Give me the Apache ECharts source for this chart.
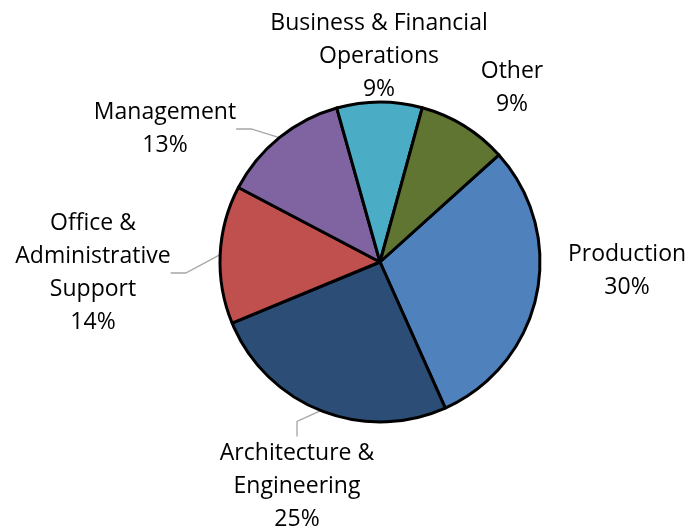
<!DOCTYPE html>
<html><head><meta charset="utf-8">
<script src="https://cdn.jsdelivr.net/npm/echarts@6/dist/echarts.min.js"></script>
<style>html,body{margin:0;padding:0;background:#fff}#c{width:688px;height:528px}</style>
</head><body><div id="c"></div>
<script>
// Data
const categories = ['Production', 'Architecture &\nEngineering', 'Office &\nAdministrative\nSupport', 'Management', 'Business & Financial\nOperations', 'Other'];
const shares = [29.9, 25.4, 13.9, 12.9, 8.6, 9.05];
const showLeader = [false, true, true, true, false, false];

// Styling / layout (not data)
const colors = ['#4F81BD', '#2C4D75', '#C0504D', '#8064A2', '#4BACC6', '#617533'];
const labelAnchors = [[627, 271], [297, 486], [93, 273], [165, 129], [379, 56], [512, 88]];

const chart = echarts.init(document.getElementById('c'), null, {renderer: 'canvas'});
chart.setOption({
  animation: false,
  backgroundColor: '#fff',
  series: [{
    type: 'pie',
    center: [380, 262],
    radius: 160,
    startAngle: 42,
    clockwise: true,
    percentPrecision: 0,
    itemStyle: {borderColor: '#000', borderWidth: 3},
    label: {
      show: true,
      position: 'outside',
      formatter: '{b}\n{d}%',
      fontFamily: 'Open Sans',
      fontSize: 23,
      lineHeight: 33,
      color: '#000',
      align: 'center',
      overflow: 'none',
      edgeDistance: 0
    },
    labelLine: {show: true, length: 10, length2: 15, lineStyle: {color: '#A6A6A6', width: 1.3}},
    labelLayout: function (params) {
      const p = labelAnchors[params.dataIndex];
      return {x: p[0], y: p[1], align: 'center', verticalAlign: 'middle'};
    },
    data: categories.map((name, i) => ({
      name: name,
      value: shares[i],
      itemStyle: {color: colors[i]},
      labelLine: {show: showLeader[i]}
    }))
  }]
});
</script>
</body></html>
